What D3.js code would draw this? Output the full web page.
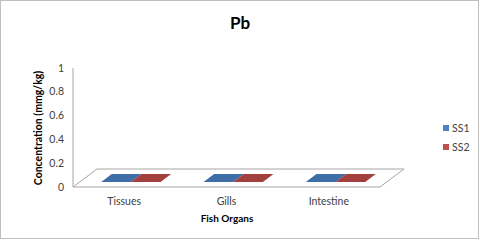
<!DOCTYPE html>
<html><head><meta charset="utf-8">
<script src="https://cdn.jsdelivr.net/npm/d3@7"></script>
<style>html,body{margin:0;padding:0;background:#fff;}svg{display:block;}</style>
</head><body><svg id="c" width="480" height="241"></svg>
<script>
const categories = ["Tissues", "Gills", "Intestine"];
const seriesNames = ["SS1", "SS2"];
const ss1 = [0, 0, 0];
const ss2 = [0, 0, 0];
const yTicks = [0, 0.2, 0.4, 0.6, 0.8, 1];
const yTickLabels = ["0", "0.2", "0.4", "0.6", "0.8", "1"];

const colors = {SS1: "#4F81BD", SS2: "#C0504D"};
const topColors = {SS1: "#3F6DA6", SS2: "#A33F3C"};
const font = "Lato, 'Open Sans', sans-serif";

const svg = d3.select("#c");
svg.append("rect").attr("x", 0.5).attr("y", 0.5).attr("width", 478).attr("height", 238)
  .attr("fill", "#fff").attr("stroke", "#bfbfbf");

const x0 = 73, x1 = 380, yTop = 68, yBot = 187;
const dX = 24, dY = 18;
const y = d3.scaleLinear().domain([0, 1]).range([yBot, yTop]);
const x = d3.scaleBand().domain(categories).range([x0, x1]).paddingInner(0.42).paddingOuter(0.21);
const xs = d3.scaleBand().domain(seriesNames).range([0, x.bandwidth()]);
const P = (px, v, z) => [px + z * dX, y(v) - z * dY];

// title
svg.append("text").attr("x", 240).attr("y", 29).attr("text-anchor", "middle")
  .attr("font-family", font).attr("font-weight", "bold").attr("font-size", 17).attr("fill", "#000").text("Pb");

// y axis line
svg.append("line").attr("x1", x0).attr("x2", x0).attr("y1", y(1)).attr("y2", y(0))
  .attr("stroke", "#a6a6a6").attr("stroke-width", 1);

// floor
const floor = [P(x0, 0, 0), P(x0, 0, 1), P(x1, 0, 1), P(x1, 0, 0)];
svg.append("path").attr("d", d3.line()(floor) + "Z").attr("fill", "none").attr("stroke", "#a6a6a6");

// y tick labels
svg.selectAll(".yt").data(yTicks).join("text").attr("class", "yt")
  .attr("x", 64).attr("y", d => y(d)).attr("dy", "0.35em").attr("text-anchor", "end")
  .attr("font-family", font).attr("font-size", 10.5).attr("fill", "#404040")
  .text((d, i) => yTickLabels[i]);

// bars
const data = [];
categories.forEach((c, i) => {
  data.push({c, s: "SS1", v: ss1[i]});
  data.push({c, s: "SS2", v: ss2[i]});
});
const zf = 0.28, zb = 0.72;
const g = svg.append("g");
data.forEach(d => {
  const xa = x(d.c) + xs(d.s), xb = xa + xs.bandwidth();
  const front = [P(xa, 0, zf), P(xb, 0, zf), P(xb, d.v, zf), P(xa, d.v, zf)];
  if (d.v > 0) g.append("path").attr("d", d3.line()(front) + "Z").attr("fill", colors[d.s]);
  const top = [P(xa, d.v, zf), P(xb, d.v, zf), P(xb, d.v, zb), P(xa, d.v, zb)];
  g.append("path").attr("d", d3.line()(top) + "Z").attr("fill", topColors[d.s]);
});

// category labels
svg.selectAll(".xt").data(categories).join("text").attr("class", "xt")
  .attr("x", d => x(d) + x.bandwidth() / 2).attr("y", 205).attr("text-anchor", "middle")
  .attr("font-family", font).attr("font-size", 10.5).attr("fill", "#404040").text(d => d);

// axis titles
svg.append("text").attr("x", 227).attr("y", 222).attr("text-anchor", "middle")
  .attr("font-family", font).attr("font-weight", "bold").attr("font-size", 10).attr("fill", "#000").text("Fish Organs");
svg.append("text").attr("transform", "translate(42,128) rotate(-90)").attr("text-anchor", "middle")
  .attr("font-family", font).attr("font-weight", "bold").attr("font-size", 10.5).attr("fill", "#000")
  .text("Concentration (mmg/kg)");

// legend
const lg = svg.selectAll(".lg").data(seriesNames).join("g").attr("class", "lg")
  .attr("transform", (d, i) => `translate(443,${128 + i * 19})`);
lg.append("rect").attr("x", 0).attr("y", -3).attr("width", 6).attr("height", 6).attr("fill", d => colors[d]);
lg.append("text").attr("x", 9).attr("y", 0).attr("dy", "0.35em")
  .attr("font-family", font).attr("font-size", 10.5).attr("fill", "#404040").text(d => d);
</script></body></html>
